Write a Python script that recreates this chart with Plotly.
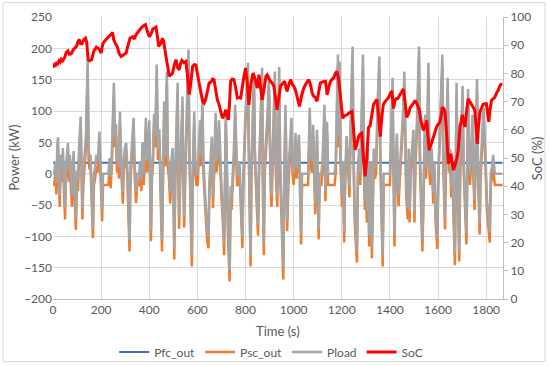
import plotly.graph_objects as go

# ---- data ----
time_s = [
    0, 5, 10, 14, 18, 21, 24, 28, 32, 36,
    41, 45, 50, 54, 58, 62, 66, 70, 75, 79,
    83, 86, 90, 95, 100, 104, 108, 115, 119, 122,
    126, 130, 137, 144, 148, 152, 156, 160, 166, 170,
    175, 180, 186, 193, 198, 204, 208, 215, 225, 230,
    235, 240, 245, 249, 253, 257, 262, 266, 270, 274,
    278, 282, 286, 290, 294, 298, 304, 308, 313, 318,
    322, 326, 331, 335, 339, 345, 350, 358, 362, 367,
    372, 377, 382, 386, 390, 395, 400, 403, 407, 411,
    415, 420, 425, 431, 436, 442, 446, 453, 457, 462,
    466, 469, 473, 477, 482, 487, 492, 497, 500, 504,
    508, 513, 518, 521, 524, 529, 534, 538, 541, 545,
    549, 556, 563, 567, 572, 577, 581, 587, 591, 596,
    601, 606, 611, 615, 621, 625, 630, 636, 641, 646,
    650, 655, 660, 665, 670, 676, 680, 685, 690, 694,
    700, 706, 711, 715, 718, 722, 727, 734, 738, 742,
    747, 752, 757, 761, 765, 770, 775, 781, 787, 791,
    796, 800, 805, 810, 814, 817, 821, 825, 830, 835,
    839, 843, 847, 852, 856, 862, 869, 872, 876, 880,
    887, 892, 897, 901, 905, 908, 913, 918, 922, 926,
    932, 936, 940, 944, 950, 957, 961, 966, 970, 973,
    978, 984, 991, 995, 1000, 1004, 1008, 1012, 1017, 1022,
    1026, 1031, 1035, 1060, 1063, 1067, 1071, 1076, 1081, 1085,
    1090, 1094, 1097, 1100, 1104, 1108, 1115, 1120, 1124, 1128,
    1132, 1136, 1139, 1143, 1170, 1175, 1180, 1184, 1187, 1191,
    1195, 1201, 1205, 1210, 1214, 1220, 1226, 1232, 1238, 1245,
    1249, 1253, 1258, 1263, 1267, 1272, 1277, 1282, 1288, 1292,
    1296, 1300, 1304, 1308, 1314, 1318, 1321, 1325, 1329, 1333,
    1338, 1343, 1348, 1356, 1360, 1365, 1370, 1374, 1400, 1405,
    1411, 1415, 1419, 1423, 1429, 1432, 1436, 1440, 1445, 1450,
    1455, 1460, 1464, 1468, 1474, 1478, 1482, 1486, 1490, 1495,
    1498, 1502, 1506, 1512, 1516, 1521, 1525, 1530, 1535, 1539,
    1543, 1546, 1550, 1555, 1560, 1564, 1568, 1574, 1580, 1585,
    1590, 1597, 1601, 1606, 1612, 1618, 1622, 1625, 1629, 1633,
    1640, 1645, 1650, 1655, 1660, 1665, 1670, 1674, 1677, 1681,
    1684, 1688, 1692, 1697, 1702, 1706, 1712, 1718, 1722, 1725,
    1729, 1733, 1738, 1743, 1747, 1752, 1757, 1762, 1766, 1773,
    1777, 1782, 1787, 1790, 1794, 1798, 1803, 1809, 1815, 1819,
    1824, 1829, 1836, 1868,
]

pload_kw = [
    0, 0, 20, -15, 45, 58, 10, -35, 30, 5,
    41, -20, -55, 10, 25, 49, 5, 30, -10, -35,
    20, 36, -20, -72, 5, -10, 40, 91, 10, -55,
    0, 20, 60, 182, 40, 25, 30, -20, -85, 0,
    10, 30, 20, 67, 10, -58, 0, 0, 0, 0,
    25, -5, 40, 90, 145, 60, 79, 20, 50, 10,
    99, 40, -5, -30, 20, 40, 49, 20, -40, -106,
    10, 30, 60, 89, 20, -29, 0, 0, 20, -10,
    50, 0, 45, 89, 20, 40, 85, 20, -90, 10,
    30, 95, 60, 174, 40, 71, 10, -106, 0, 115,
    30, 60, 163, 30, 10, -30, 20, 41, 0, -119,
    0, 70, 145, 20, -70, 10, 60, 123, 20, -68,
    0, 90, 198, 40, -60, -130, 10, 99, 20, 0,
    0, 60, 85, 30, 121, 20, -30, -60, -90, -101,
    -10, 20, 59, -37, 30, 97, 20, 40, 85, 30,
    -20, -60, -112, 0, 99, 30, -80, -154, -20, -40,
    0, 40, 110, 30, 0, 0, 20, -40, -101, 0,
    60, 100, 130, 177, 40, -60, -130, 20, 80, 161,
    40, 10, -40, -81, 10, 80, 169, 0, -112, 20,
    60, 100, 155, 20, -10, -35, 40, 100, 163, 20,
    -35, 60, 170, 20, -80, -151, 0, 110, 20, -74,
    0, 40, 89, 20, 0, 30, 65, 10, 30, 62,
    0, -95, 0, 0, 40, 105, 30, 20, 78, 10,
    -47, 10, 70, 10, -87, 0, 0, 20, 60, 110,
    -26, 30, 83, 0, 0, 20, 120, 190, 60, 179,
    30, -35, 20, -92, 0, 60, 30, -20, 100, 203,
    40, -50, -90, -124, 10, 40, 0, 100, 190, 30,
    -40, 10, -60, 40, -98, 0, 20, -117, 0, 40,
    10, 20, 100, 187, 40, -60, -130, 0, 0, 60,
    153, 20, -98, 0, 64, 10, -34, 0, 30, 60,
    100, 163, 30, -20, -55, 40, -60, 20, 30, 50,
    70, -60, 30, 80, 150, 203, 30, -40, -106, -40,
    20, 94, 10, 60, 177, 20, 0, 40, -30, 20,
    -60, -102, 0, 50, 100, 190, 30, -30, -71, 30,
    153, 20, 40, -20, 10, -60, -128, 20, 145, 10,
    -40, -122, 10, 60, 140, 30, -30, -95, 20, 135,
    30, 0, 40, 94, 10, -40, 50, 151, 20, -79,
    10, 60, 90, 105, 40, 20, -40, -70, -92, 0,
    10, 30, 0, 0,
]

psc_kw = [
    -18, -18, 2, -33, 27, 40, -8, -53, 12, -13,
    23, -38, -73, -8, 7, 31, -13, 12, -28, -53,
    2, 18, -38, -90, -13, -28, 22, 73, -8, -73,
    -18, 2, 42, 164, 22, 7, 12, -38, -103, -18,
    -8, 12, 2, 49, -8, -76, -18, -18, -18, -18,
    7, -23, 22, 72, 127, 42, 61, 2, 32, -8,
    81, 22, -23, -48, 2, 22, 31, 2, -58, -124,
    -8, 12, 42, 71, 2, -47, -18, -18, 2, -28,
    32, -18, 27, 71, 2, 22, 67, 2, -108, -8,
    12, 77, 42, 156, 22, 53, -8, -124, -18, 97,
    12, 42, 145, 12, -8, -48, 2, 23, -18, -137,
    -18, 52, 127, 2, -88, -8, 42, 105, 2, -86,
    -18, 72, 180, 22, -78, -148, -8, 81, 2, -18,
    -18, 42, 67, 12, 103, 2, -48, -78, -108, -119,
    -28, 2, 41, -55, 12, 79, 2, 22, 67, 12,
    -38, -78, -130, -18, 81, 12, -98, -172, -38, -58,
    -18, 22, 92, 12, -18, -18, 2, -58, -119, -18,
    42, 82, 112, 159, 22, -78, -148, 2, 62, 143,
    22, -8, -58, -99, -8, 62, 151, -18, -130, 2,
    42, 82, 137, 2, -28, -53, 22, 82, 145, 2,
    -53, 42, 152, 2, -98, -169, -18, 92, 2, -92,
    -18, 22, 71, 2, -18, 12, 47, -8, 12, 44,
    -18, -113, -18, -18, 22, 87, 12, 2, 60, -8,
    -65, -8, 52, -8, -105, -18, -18, 2, 42, 92,
    -44, 12, 65, -18, -18, 2, 102, 172, 42, 161,
    12, -53, 2, -110, -18, 42, 12, -38, 82, 185,
    22, -68, -108, -142, -8, 22, -18, 82, 172, 12,
    -58, -8, -78, 22, -116, -18, 2, -135, -18, 22,
    -8, 2, 82, 169, 22, -78, -148, -18, -18, 42,
    135, 2, -116, -18, 46, -8, -52, -18, 12, 42,
    82, 145, 12, -38, -73, 22, -78, 2, 12, 32,
    52, -78, 12, 62, 132, 185, 12, -58, -124, -58,
    2, 76, -8, 42, 159, 2, -18, 22, -48, 2,
    -78, -120, -18, 32, 82, 172, 12, -48, -89, 12,
    135, 2, 22, -38, -8, -78, -146, 2, 127, -8,
    -58, -140, -8, 42, 122, 12, -48, -113, 2, 117,
    12, -18, 22, 76, -8, -58, 32, 133, 2, -97,
    -8, 42, 72, 87, 22, 2, -58, -88, -110, -18,
    -8, 12, -18, -18,
]

pfc_t = [0, 1868]
pfc_kw = [17.5, 17.5]

soc_t = [
    0, 5, 10, 15, 20, 25, 30, 35, 40, 48,
    55, 62, 68, 76, 85, 97, 105, 110, 115, 120,
    128, 135, 140, 146, 152, 160, 170, 180, 188, 193,
    200, 207, 215, 225, 235, 242, 248, 252, 256, 260,
    267, 275, 283, 290, 297, 304, 312, 320, 331, 338,
    345, 355, 365, 372, 384, 392, 400, 408, 415, 421,
    428, 434, 439, 447, 455, 460, 465, 469, 476, 483,
    490, 497, 504, 511, 518, 525, 530, 536, 544, 552,
    558, 566, 572, 580, 587, 594, 600, 608, 615, 622,
    628, 635, 642, 649, 657, 663, 669, 676, 683, 690,
    697, 704, 711, 718, 724, 729, 734, 738, 745, 752,
    759, 766, 773, 780, 790, 800, 807, 814, 822, 831,
    840, 849, 856, 862, 869, 878, 885, 890, 897, 904,
    911, 918, 925, 931, 938, 945, 955, 963, 968, 973,
    980, 987, 995, 1000, 1007, 1015, 1024, 1033, 1042, 1052,
    1063, 1070, 1077, 1083, 1090, 1097, 1104, 1111, 1120, 1132,
    1136, 1139, 1146, 1152, 1159, 1167, 1173, 1180, 1187, 1194,
    1199, 1204, 1212, 1221, 1230, 1242, 1249, 1256, 1263, 1270,
    1277, 1283, 1290, 1297, 1304, 1311, 1318, 1325, 1332, 1340,
    1346, 1353, 1360, 1367, 1373, 1380, 1387, 1394, 1401, 1408,
    1412, 1415, 1420, 1425, 1432, 1442, 1449, 1456, 1463, 1470,
    1478, 1485, 1491, 1498, 1505, 1513, 1521, 1530, 1539, 1546,
    1553, 1558, 1563, 1572, 1581, 1588, 1594, 1601, 1608, 1613,
    1618, 1624, 1629, 1636, 1643, 1648, 1654, 1659, 1664, 1669,
    1673, 1679, 1684, 1688, 1691, 1696, 1701, 1706, 1712, 1718,
    1725, 1732, 1739, 1746, 1753, 1758, 1763, 1768, 1774, 1782,
    1787, 1794, 1801, 1806, 1811, 1816, 1822, 1829, 1836, 1843,
    1850, 1857, 1865,
]

soc_pct = [
    82, 83, 82.5, 84, 83.5, 84.5, 84, 85, 84.5, 85.5,
    87.5, 88, 86.8, 87, 88.5, 89.5, 91.5, 92, 90.5, 90.5,
    92, 92.5, 91, 85, 84.5, 84.8, 88, 89.3, 88.8, 88.5,
    87.2, 90.5, 91.5, 92.5, 93.5, 94, 94.5, 92, 91, 90.5,
    89.5, 87, 86, 86.5, 87, 87.2, 90, 92.5, 93, 92.2,
    93.7, 95, 96, 96.6, 97.3, 95, 93, 94, 95.8, 96,
    96.4, 93, 89.6, 90.5, 92.5, 91, 88, 87, 83, 79,
    79.5, 80.1, 83, 84.9, 82, 81.3, 83.5, 84.6, 83.8, 84.2,
    80, 72.5, 76, 82.5, 83.1, 83, 80, 75.4, 73, 70,
    69.5, 71, 74, 76.6, 77, 78, 77.8, 74, 70.6, 69,
    67, 64.1, 65, 67.1, 65, 63.5, 70, 77.2, 78, 77.8,
    75, 71.3, 71.5, 71.3, 77, 81.9, 77, 68.8, 76, 80.1,
    78, 74.8, 79.5, 76, 70.6, 75, 79, 79.5, 78, 77.2,
    76.5, 75.4, 71, 67.1, 71, 75.4, 76.5, 77.2, 75, 73.6,
    76, 77.8, 76, 75.5, 74.3, 71, 68.3, 72, 74.8, 76.5,
    77.8, 76, 73, 71.9, 71.5, 70.1, 73, 76.6, 77, 77.2,
    75, 72.4, 75, 77, 77.8, 78.5, 80, 80.7, 78, 71.9,
    67, 64.1, 65, 65.3, 66, 66.5, 60, 52.9, 55, 57.6,
    58.5, 58.8, 50, 43.5, 50, 60.8, 61.5, 66, 69, 70,
    70.8, 65, 57.6, 65, 69, 70, 70.8, 71.4, 72.7, 73.8,
    70, 67.6, 70, 71, 71, 72.7, 73.5, 74.5, 70, 64.4,
    66, 68, 68.6, 69.5, 70.4, 69, 67.4, 63, 59.8, 61,
    63.3, 58, 52.7, 55, 57.5, 59.5, 61, 62, 62.8, 65,
    68, 67.5, 66.3, 58, 48, 50, 51.5, 48, 45.7, 47,
    48, 50, 52.7, 57, 61, 63, 65.3, 63, 61, 66,
    71, 70, 69.2, 68, 66.8, 60, 55, 61, 66.2, 68,
    69, 69.2, 69.2, 66, 62.8, 67, 70.4, 71, 71.5, 73,
    74, 75.6, 76.5,
]

x_ticks = [0, 200, 400, 600, 800, 1000, 1200, 1400, 1600, 1800]

# ---- figure ----
FONT = "Lato"
TXT = "#595959"

fig = go.Figure()
fig.add_trace(go.Scatter(x=pfc_t, y=pfc_kw, name="Pfc_out", mode="lines",
                         line=dict(color="#2E75C6", width=2)))
fig.add_trace(go.Scatter(x=time_s, y=psc_kw, name="Psc_out", mode="lines",
                         line=dict(color="#ED7D31", width=2.5)))
fig.add_trace(go.Scatter(x=time_s, y=pload_kw, name="Pload", mode="lines",
                         line=dict(color="#A5A5A5", width=2.5)))
fig.add_trace(go.Scatter(x=soc_t, y=soc_pct, name="SoC", mode="lines", yaxis="y2",
                         line=dict(color="#FF0000", width=3)))

fig.update_layout(
    width=550, height=366,
    margin=dict(l=53, r=47, t=17, b=67),
    paper_bgcolor="white", plot_bgcolor="white",
    font=dict(family=FONT, size=12, color=TXT),
    showlegend=True,
    legend=dict(orientation="h", xref="container", yref="container",
                x=0.493, xanchor="center", y=0.038, yanchor="middle",
                font=dict(family=FONT, size=12, color=TXT), bgcolor="rgba(0,0,0,0)"),
    xaxis=dict(range=[0, 1870], tickvals=x_ticks, showgrid=True, gridcolor="#D9D9D9",
               zeroline=False, showline=True, linecolor="#BFBFBF", ticks="",
               automargin=False,
               tickfont=dict(family=FONT, size=12, color=TXT)),
    yaxis=dict(range=[-200, 250], dtick=50, showgrid=True, gridcolor="#D9D9D9",
               zeroline=False, showline=False, ticks="", automargin=False,
               tickfont=dict(family=FONT, size=12, color=TXT)),
    yaxis2=dict(range=[0, 100], dtick=10, overlaying="y", side="right", showgrid=False,
                zeroline=False, showline=True, linecolor="#BFBFBF", ticks="outside",
                ticklen=4, tickcolor="#BFBFBF", automargin=False,
                tickfont=dict(family=FONT, size=12, color=TXT)),
    annotations=[
        dict(text="Time (s)", xref="paper", yref="paper", x=0.5, y=-0.115,
             showarrow=False, xanchor="center", yanchor="middle",
             font=dict(family=FONT, size=13, color=TXT)),
        dict(text="Power (kW)", xref="paper", yref="paper", x=-0.087, y=0.5,
             textangle=-90, showarrow=False, xanchor="center", yanchor="middle",
             font=dict(family=FONT, size=13, color=TXT)),
        dict(text="SoC (%)", xref="paper", yref="paper", x=1.076, y=0.5,
             textangle=-90, showarrow=False, xanchor="center", yanchor="middle",
             font=dict(family=FONT, size=13, color=TXT)),
    ],
    shapes=[
        dict(type="rect", xref="paper", yref="paper", x0=-0.111, x1=1.093,
             y0=-0.222, y1=1.051, line=dict(color="#D9D9D9", width=1),
             fillcolor="rgba(0,0,0,0)", layer="below"),
    ],
)

fig.write_html("out.html", config={"displayModeBar": False},
               post_script="document.body.style.margin='0';")
